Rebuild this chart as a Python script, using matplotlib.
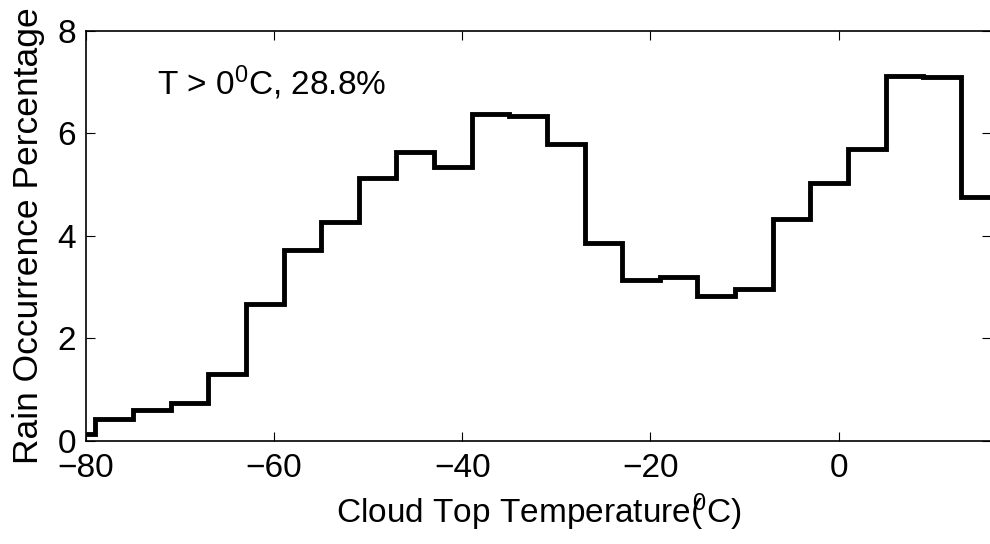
import numpy as np
import matplotlib
matplotlib.use('Agg')
from matplotlib import pyplot as plt

# bin edges of the stairs (deg C) and rain occurrence percentage per bin
edges = [-80, -79, -75, -71, -67, -63, -59, -55, -51, -47, -43, -39, -35,
         -31, -27, -23, -19, -15, -11, -7, -3, 1, 5, 9, 13, 17]
rain_pct = [0.14, 0.42, 0.60, 0.74, 1.31, 2.67, 3.72, 4.28, 5.12, 5.64, 5.35,
            6.37, 6.34, 5.79, 3.87, 3.14, 3.20, 2.83, 2.97, 4.33, 5.03, 5.70,
            7.12, 7.10, 4.75]
x_ticks = [-80, -60, -40, -20, 0]
y_ticks = [0, 2, 4, 6, 8]

plt.rcParams['font.family'] = ['Liberation Sans', 'DejaVu Sans']
plt.rcParams['mathtext.fontset'] = 'custom'
plt.rcParams['mathtext.rm'] = 'Liberation Sans'
plt.rcParams['mathtext.it'] = 'Liberation Sans'

fig = plt.figure(figsize=(9.9, 5.44), dpi=100)
# axes box runs slightly past the right edge of the figure, like the original
ax = fig.add_axes([86 / 990, 1 - 440.7 / 544, 905 / 990, 409.7 / 544])

ax.stairs(rain_pct, edges, color='black', linewidth=3.5, baseline=None)

ax.set_xlim(-80, 16.2)
ax.set_ylim(0, 8)
ax.set_xticks(x_ticks)
ax.set_yticks(y_ticks)
ax.tick_params(direction='in', length=6.5, width=0.8, top=True, right=True,
               labelsize=24)
ax.tick_params(axis='x', pad=9)
ax.tick_params(axis='y', pad=7)
for s in ax.spines.values():
    s.set_linewidth(1.2)

# superscript 0 pulled back over the bracket, as in the original
ax.set_xlabel(r'Cloud Top Temperature($\!\!{}^0$C)', fontsize=24, labelpad=5)
ax.set_ylabel('Rain Occurrence Percentage', fontsize=25.5, labelpad=9)
ax.text(-72.4, 6.75, 'T > 0$^0$C, 28.8%', fontsize=24)

fig.savefig('out.png', dpi=100)
